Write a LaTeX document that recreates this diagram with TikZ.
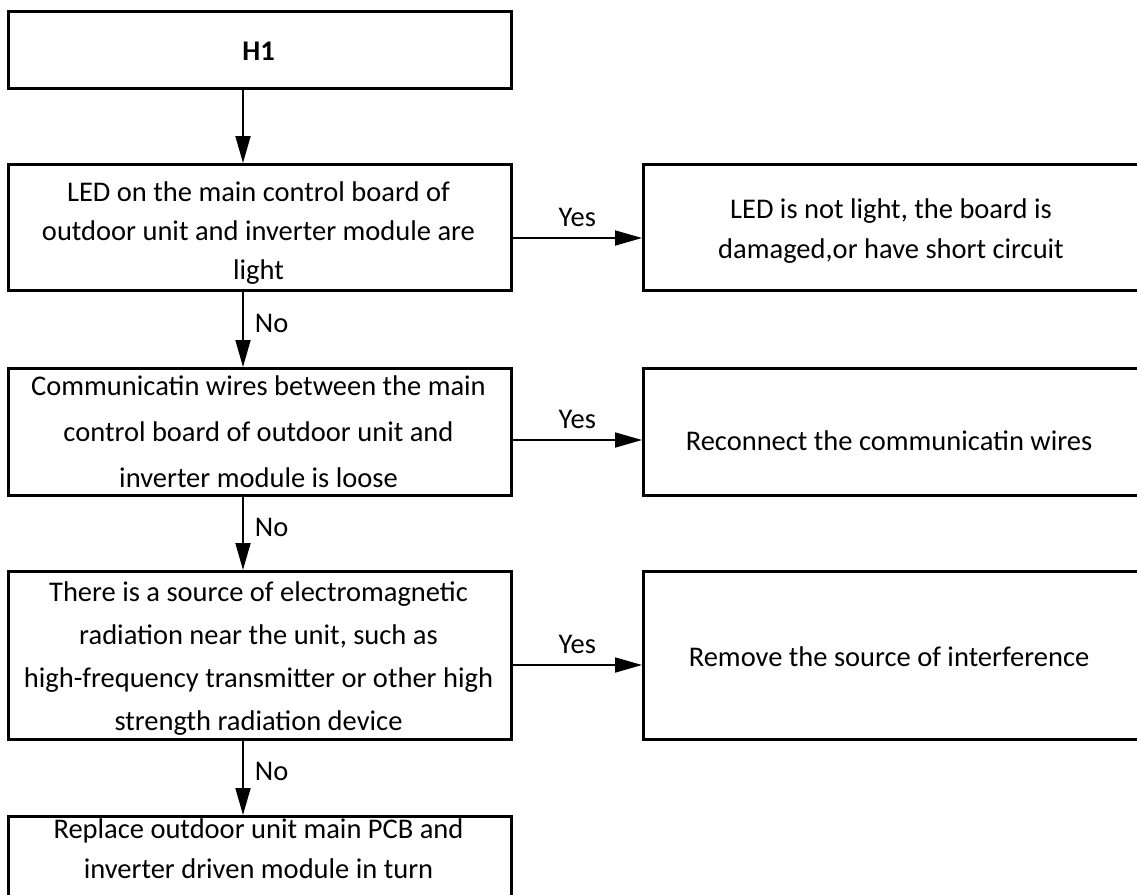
\documentclass[tikz,border=0pt]{standalone}
\usepackage{fontspec}
\setmainfont{Carlito}
\usetikzlibrary{arrows.meta}
\tikzset{
  boxstyle/.style={draw=black, line width=2.6pt, inner sep=0pt, anchor=north west},
  arr/.style={draw=black, line width=1.8pt, -{Triangle[length=27pt,width=15pt]}},
  lbl/.style={font=\fontsize{28.5}{34}\selectfont, inner sep=3pt},
  txt/.style={align=center, inner sep=0pt},
  sp39/.style={txt, font=\fontsize{28.5}{39}\selectfont},
  sp46/.style={txt, font=\fontsize{28.5}{46}\selectfont},
  sp43/.style={txt, font=\fontsize{28.5}{43}\selectfont},
  sp40/.style={txt, font=\fontsize{28.5}{40}\selectfont}
}
\begin{document}
\begin{tikzpicture}[x=1pt,y=-1pt]
\useasboundingbox (0,0) rectangle (1137,894);
\clip (0,0) rectangle (1137,894);
\fill[white] (0,0) rectangle (1137,894);
% left column boxes
\node[boxstyle, minimum width=503pt, minimum height=77pt] (h1) at (7,10) {};
\node[boxstyle, minimum width=503pt, minimum height=126pt] (b2) at (7,163) {};
\node[boxstyle, minimum width=503pt, minimum height=127pt] (b3) at (7,367) {};
\node[boxstyle, minimum width=503pt, minimum height=168pt] (b4) at (7,570) {};
\node[boxstyle, minimum width=503pt, minimum height=120pt] (b5) at (7,815) {};
% right column boxes
\node[boxstyle, minimum width=498pt, minimum height=126pt] (r1) at (642,163) {};
\node[boxstyle, minimum width=498pt, minimum height=127pt] (r2) at (642,367) {};
\node[boxstyle, minimum width=498pt, minimum height=168pt] (r3) at (642,570) {};
% texts
\node[sp40] (h1t) at (258.5,51) {\textbf{H1}};
\node[sp39] (b2t) at (258.5,233) {LED on the main control board of\\outdoor unit and inverter module are\\light};
\node[sp46] (b3t) at (258.5,432) {Communicatin wires between the main\\control board of outdoor unit and\\inverter module is loose};
\node[sp43] (b4t) at (258.5,659) {There is a source of electromagnetic\\radiation near the unit, such as\\high-frequency transmitter or other high\\strength radiation device};
\node[sp40] (b5t) at (258.5,849) {Replace outdoor unit main PCB and\\inverter driven module in turn};
\node[sp40] (r1t) at (891,231) {LED is not light, the board is\\damaged,or have short circuit};
\node[sp40] (r2t) at (889,441) {Reconnect the communicatin wires};
\node[sp40] (r3t) at (889,657) {Remove the source of interference};
% connector coordinates
\coordinate (ax) at (243,0);
\coordinate (y1) at (0,238);
\coordinate (y2) at (0,440);
\coordinate (y3) at (0,665);
% vertical arrows
\draw[arr] (h1.south -| ax) -- (b2.north -| ax);
\draw[arr] (b2.south -| ax) -- node[lbl, right, pos=0.42, xshift=8pt] {No} (b3.north -| ax);
\draw[arr] (b3.south -| ax) -- node[lbl, right, pos=0.42, xshift=8pt] {No} (b4.north -| ax);
\draw[arr] (b4.south -| ax) -- node[lbl, right, pos=0.42, xshift=8pt] {No} (b5.north -| ax);
% horizontal arrows
\draw[arr] (b2.east |- y1) -- node[lbl, above, yshift=7pt] {Yes} (r1.west |- y1);
\draw[arr] (b3.east |- y2) -- node[lbl, above, yshift=7pt] {Yes} (r2.west |- y2);
\draw[arr] (b4.east |- y3) -- node[lbl, above, yshift=7pt] {Yes} (r3.west |- y3);
\end{tikzpicture}
\end{document}
